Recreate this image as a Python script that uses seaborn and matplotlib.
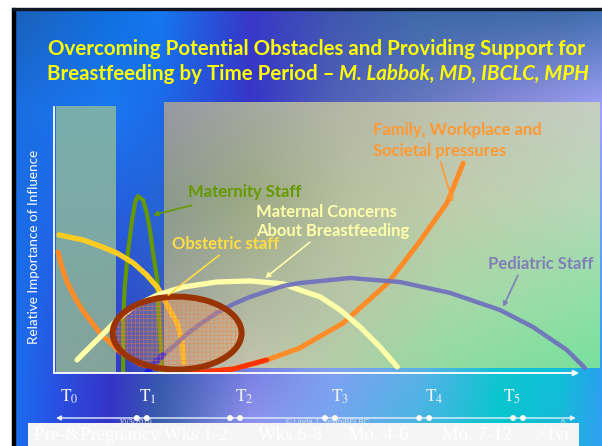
import numpy as np
import matplotlib
matplotlib.use("Agg")
import matplotlib.pyplot as plt
from matplotlib.patches import Rectangle, Ellipse
from matplotlib.colors import to_rgb
import seaborn as sns

# ---------------- data (time units 0-100, relative importance 0-100) ----------------
family_x = [0.76, 1.53, 2.48, 4.01, 5.53, 8.78, 12.6, 16.4, 21.6, 27.9, 34.2, 40.6, 46.9, 55.2, 63.7, 69.3, 75.0, 78.1]
family_y = [45.5, 39.5, 34.2, 28.2, 23.3, 15.0, 7.9, 3.4, 0.8, 0.3, 1.5, 4.9, 9.4, 18.8, 33.8, 48.1, 63.9, 78.9]

obstetric_x = [0.95, 5.53, 8.78, 12.0, 15.1, 17.7, 19.7, 20.8, 22.1, 23.5, 24.4, 24.6, 24.8]
obstetric_y = [51.9, 50.0, 47.7, 45.1, 41.4, 36.8, 32.3, 28.6, 23.7, 18.8, 12.4, 7.5, 3.8]

maternal_x = [4.39, 6.87, 8.78, 12.0, 15.1, 19.7, 24.6, 31.1, 37.4, 43.7, 46.9, 50.8, 54.6, 58.4, 62.2, 65.5]
maternal_y = [4.9, 9.8, 13.5, 19.9, 24.8, 29.3, 32.3, 34.2, 34.6, 33.5, 31.2, 28.6, 23.7, 17.3, 9.8, 2.3]

maternity_x = [13.2, 13.2, 13.5, 14.1, 14.9, 15.5, 16.0, 17.0, 17.7, 18.3, 18.9, 19.7, 20.0, 20.4, 20.6]
maternity_y = [0.4, 19.9, 32.3, 45.1, 57.5, 64.3, 66.5, 65.0, 60.2, 53.8, 45.1, 35.0, 22.6, 9.8, -0.8]

pediatric_x = [17.7, 19.3, 20.8, 23.1, 25.4, 27.9, 31.1, 34.2, 37.4, 43.7, 46.9, 56.5, 66.0, 75.6, 85.1, 91.4, 97.9, 101.3]
pediatric_y = [0.0, 4.1, 6.8, 10.5, 14.7, 18.4, 22.6, 25.9, 28.6, 32.7, 33.8, 35.7, 34.2, 30.1, 23.7, 17.3, 8.6, 1.9]

time_labels = ["0", "1", "2", "3", "4", "5"]
time_label_x = [1.15, 16.2, 34.5, 52.9, 70.8, 85.6]
time_points = [15.8, 17.7, 33.6, 35.5, 51.7, 53.6, 69.7, 71.6, 87.6, 89.5]
period_labels = ["Pre-&Pregnancy Wks 1-2", "Wks 6-8", "Mo. 4-6", "Mo. 7-12", ">1yr"]
period_px = [34, 258, 348, 442, 535]

overlap_center = (23.5, 15.0)
overlap_size = (24.6, 27.4)

# ---------------- style ----------------
sns.set_style("white")
plt.rcParams['font.family'] = ['Lato', 'DejaVu Sans']
plt.rcParams['mathtext.fontset'] = 'stix'
plt.rcParams['hatch.linewidth'] = 0.5

W, H = 602, 446
fig = plt.figure(figsize=(6.02, 4.46), dpi=100)
fig.patch.set_facecolor('white')


def fy(py):
    return 1 - py / H


def grid_image(xs, ys, rows, nx=300, ny=220):
    arr = np.array([[to_rgb(c) for c in r] for r in rows])
    gx = np.linspace(xs[0], xs[-1], nx)
    gy = np.linspace(ys[0], ys[-1], ny)
    tmp = np.stack([np.stack([np.interp(gx, xs, arr[i, :, k]) for k in range(3)], -1)
                    for i in range(len(ys))])
    img = np.stack([np.stack([np.interp(gy, ys, tmp[:, j, k]) for k in range(3)], -1)
                    for j in range(nx)], 1)
    return img


# ---------------- background ----------------
bg = fig.add_axes([0, 0, 1, 1])
bg.set_xlim(0, W)
bg.set_ylim(H, 0)
bg.axis('off')
bx = [12, 60, 110, 160, 250, 330, 420, 500, 560, 602]
by = [9, 110, 373, 446]
brows = [
    ["#1a60b8", "#1868cc", "#1070e0", "#1478f0", "#3838c8", "#3f55b0", "#3c6aa8", "#3c6aa8", "#3e6aa8", "#4070b0"],
    ["#1a6ee0", "#1a72ea", "#1a78f0", "#1c6ae8", "#3535c8", "#5060b8", "#6878c0", "#8888d8", "#9898e8", "#a0a0f8"],
    ["#1a70f0", "#2a50e0", "#3535c8", "#3a58b0", "#7a80e0", "#80a0f0", "#5ab0e8", "#10c4d0", "#10c0d8", "#2aa0f0"],
    ["#1a70f0", "#2a4ae0", "#3535c8", "#3a62a8", "#9a9af5", "#70a8f0", "#40b8e0", "#00c8cc", "#18b8d8", "#30a0f0"],
]
bg.imshow(grid_image(bx, by, brows), extent=(12, 602, 446, 9), aspect='auto',
          interpolation='bilinear', zorder=0)
bg.add_patch(Rectangle((12, 8), 3, 440, color='black', zorder=1))
bg.add_patch(Rectangle((12, 8), 590, 2, color='#101828', zorder=1))

# ---------------- main chart ----------------
ax = fig.add_axes([54 / W, (H - 373) / H, 546 / W, 273 / H])
ax.patch.set_alpha(0)
XMAX, YMAX = 104.2, 102.6

left_panel = grid_image([0, 1], [0, 1], [["#7fb2aa", "#7fb2aa"], ["#88aa98", "#88aa98"]], 4, 40)
ax.imshow(left_panel, extent=(0.38, 11.8, 0, 100), aspect='auto', zorder=0.5,
          interpolation='bilinear', alpha=0.95)
px_cols = [164, 250, 350, 450, 600]
px_rows = [103, 200, 300, 368]
prows = [
    ["#9898a4", "#a4a8a0", "#b6b8a6", "#c0c4b0", "#c6cec2"],
    ["#8c9a8c", "#9caa84", "#b8c0a0", "#c0ccac", "#b8d8b8"],
    ["#9aa29a", "#b0b8a0", "#b8c8a8", "#a8d8a8", "#90e0a8"],
    ["#a8aaa8", "#c4c4ac", "#b0d0a8", "#90dca0", "#78e09c"],
]
ax.imshow(grid_image(px_cols, px_rows, prows), extent=(21.0, XMAX, 1.9, 101.5),
          aspect='auto', interpolation='bilinear', zorder=0.5)

line_kw = dict(ax=ax, sort=False, estimator=None, legend=False)
sns.lineplot(x=family_x, y=family_y, color='#ff8c26', linewidth=3.6, zorder=2, **line_kw)
sns.lineplot(x=family_x[6:12], y=family_y[6:12], color='#ff3300', linewidth=3.6, zorder=2.05, **line_kw)
sns.lineplot(x=maternity_x, y=maternity_y, color='#669900', linewidth=3.0, zorder=2.1, **line_kw)
sns.lineplot(x=obstetric_x, y=obstetric_y, color='#ffcc22', linewidth=3.8, zorder=2.2, **line_kw)
sns.lineplot(x=maternal_x, y=maternal_y, color='#ffffaa', linewidth=3.8, zorder=2.3, **line_kw)
sns.lineplot(x=pediatric_x, y=pediatric_y, color='#6e6ebe', linewidth=3.2, alpha=0.9, zorder=2.4, **line_kw)
sns.lineplot(x=pediatric_x[:3], y=pediatric_y[:3], color='#1a1aee', linewidth=4.2, zorder=2.45, **line_kw)

ax.add_patch(Ellipse(overlap_center, *overlap_size, facecolor=(1.0, 0.6, 0.35, 0.22),
                     edgecolor=(0.93, 0.5, 0.25, 0.55), hatch='++++', linewidth=0, zorder=3))
ax.add_patch(Ellipse(overlap_center, *overlap_size, fill=False, edgecolor='#993300',
                     linewidth=4.3, zorder=3.1))

lab_kw = dict(fontsize=12, fontweight='bold', ha='left', va='center', zorder=4)
ax.annotate("Maternity Staff", xy=(18.9, 59.4), xytext=(25.6, 68.0), color='#669900',
            arrowprops=dict(arrowstyle='-|>', color='#669900', lw=1.2, mutation_scale=7,
                            shrinkA=6, shrinkB=0), **lab_kw)
ax.text(38.5, 60.6, "Maternal Concerns", color='#ffffaa', **lab_kw)
ax.annotate("About Breastfeeding", xy=(40.3, 35.7), xytext=(38.5, 53.4),
            color='#ffffaa',
            arrowprops=dict(arrowstyle='-|>', color='#ffffaa', lw=1.2, mutation_scale=7,
                            shrinkA=0, shrinkB=0, relpos=(0.38, 0.0)), **lab_kw)
ax.annotate("Obstetric staff", xy=(21.8, 29.3), xytext=(22.5, 48.5), color='#ffdd44',
            arrowprops=dict(arrowstyle='-', color='#ffdd44', lw=1.2,
                            shrinkA=0, shrinkB=0, relpos=(0.48, 0.0)), **lab_kw)
ax.text(60.9, 91.3, "Family, Workplace and", color='#ff9933', **lab_kw)
ax.annotate("Societal pressures", xy=(76.1, 64.3), xytext=(60.9, 83.5),
            color='#ff9933',
            arrowprops=dict(arrowstyle='-|>', color='#ff9933', lw=1.2, mutation_scale=7,
                            shrinkA=0, shrinkB=0, relpos=(0.5, 0.0)), **lab_kw)
ax.annotate("Pediatric Staff", xy=(85.7, 24.8), xytext=(82.8, 41.0), color='#8080b8',
            arrowprops=dict(arrowstyle='-|>', color='#8080b8', lw=1.2, mutation_scale=7,
                            shrinkA=0, shrinkB=0, relpos=(0.3, 0.0)), **lab_kw)

ax.set_xlim(0, XMAX)
ax.set_ylim(0, YMAX)
ax.set_xticks([])
ax.set_yticks([])
for s in ['top', 'right']:
    ax.spines[s].set_visible(False)
ax.spines['left'].set_color('white')
ax.spines['left'].set_linewidth(1.3)
ax.spines['left'].set_bounds(0, 100)
ax.spines['bottom'].set_visible(False)
ax.annotate('', xy=(100.2, 0), xytext=(0, 0), annotation_clip=False,
            arrowprops=dict(arrowstyle='-|>', color='white', lw=1.3, mutation_scale=8,
                            shrinkA=0, shrinkB=0), zorder=5)

# ---------------- timeline ----------------
axt = fig.add_axes([54 / W, 0, 546 / W, 66 / H])
axt.set_xlim(0, XMAX)
axt.set_ylim(0, 66)
axt.axis('off')
axt.annotate('', xy=(99.6, 28), xytext=(0.38, 28),
             arrowprops=dict(arrowstyle='<|-|>', color='#e8f0ff', lw=1.0, mutation_scale=7,
                             shrinkA=0, shrinkB=0))
sns.scatterplot(x=time_points, y=[28] * len(time_points), ax=axt, color='white', s=18,
                edgecolor='none', legend=False, zorder=3)
for lx, lab in zip(time_label_x, time_labels):
    axt.text(lx, 44, r'$\mathrm{T}_{%s}$' % lab, fontsize=12.5, color='#f4f4ff',
             ha='left', va='baseline')
axt.text(15.5, 23, "10/3/2010", fontsize=5.5, color='#e0e0e8', ha='center', va='center',
         family=['Liberation Sans'])
axt.text(52.3, 23, "\u00a9 Linda J. Smith/BFLRC", fontsize=5.5, color='#e0e0e8',
         ha='center', va='center', family=['Liberation Sans'])
axt.text(97, 23, "6", fontsize=5.5, color='#e0e0e8', ha='center', va='center',
         family=['Liberation Sans'])

box = Rectangle((28 / W, 0), (579 - 28) / W, 23 / H, transform=fig.transFigure,
                facecolor='#f5f5f5', edgecolor='none', zorder=5)
fig.add_artist(box)
for px, lab in zip(period_px, period_labels):
    fig.text(px / W, fy(440), lab, fontsize=13.5, color='white', ha='left', va='baseline',
             family=['Liberation Serif'], zorder=6)

# ---------------- titles ----------------
fig.text(34 / W, fy(247), "Relative Importance of Influence", rotation=90, fontsize=9.7,
         color='white', ha='center', va='center')
fig.text(316 / W, fy(49), "Overcoming Potential Obstacles and Providing Support for",
         fontsize=14.8, fontweight='bold', color='#ffff00', ha='center', va='center')
fig.canvas.draw()
r = fig.canvas.get_renderer()
t1 = fig.text(0, fy(74), "Breastfeeding by Time Period \u2013 ", fontsize=14.8,
              fontweight='bold', color='#ffff00', ha='left', va='center')
t2 = fig.text(0, fy(74), "M. Labbok, MD, IBCLC, MPH", fontsize=14.8, fontweight='bold',
              fontstyle='italic', color='#ffff00', ha='left', va='center')
w1 = t1.get_window_extent(r).width
w2 = t2.get_window_extent(r).width
x0 = 318 - (w1 + w2) / 2
t1.set_x(x0 / W)
t2.set_x((x0 + w1) / W)

fig.savefig("out.png", dpi=100)
